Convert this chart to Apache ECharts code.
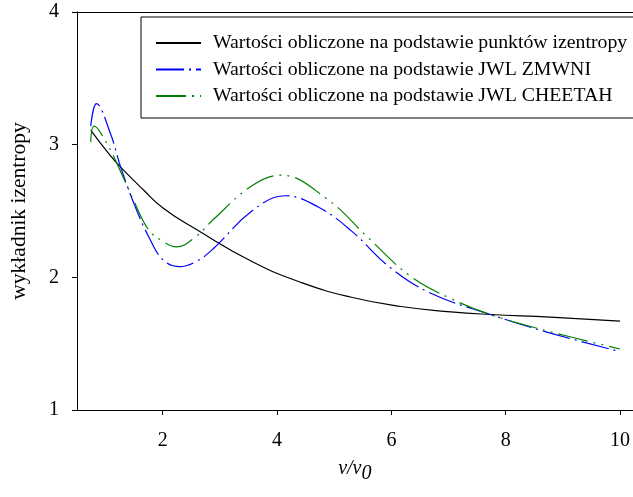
<!DOCTYPE html>
<html>
<head>
    <meta charset="utf-8"/>
    <title>wykładnik izentropy</title>
    <script src="https://cdn.jsdelivr.net/npm/echarts@6/dist/echarts.min.js"></script>
    <style>
        html, body { margin: 0; padding: 0; background: #fff; }
        #chart { width: 633px; height: 497px; }
    </style>
</head>
<body>
<div id="chart"></div>
<script>
    // dane: [v/v0, wykładnik]
    var punktyIzentropy = [[0.74, 3.11], [1.08, 2.92], [1.31, 2.81], [1.66, 2.66], [2.01, 2.52],
        [2.59, 2.36], [3.56, 2.12], [4.43, 1.96], [5.30, 1.85], [6.17, 1.78], [7.04, 1.74],
        [7.73, 1.72], [8.78, 1.70], [10.0, 1.67]];
    var jwlZmwni = [[0.74, 3.14], [0.84, 3.31], [1.08, 3.09], [1.28, 2.81], [1.54, 2.51], [1.75, 2.31],
        [2.01, 2.13], [2.30, 2.08], [2.59, 2.12], [2.87, 2.21], [3.56, 2.50], [4.14, 2.615],
        [4.72, 2.53], [5.30, 2.35], [5.96, 2.08], [6.69, 1.88], [7.73, 1.72], [8.78, 1.58], [10.0, 1.44]];
    var jwlCheetah = [[0.74, 3.02], [0.80, 3.14], [1.02, 3.01], [1.25, 2.81], [1.49, 2.58], [1.75, 2.36],
        [2.01, 2.27], [2.24, 2.23], [2.59, 2.31], [2.87, 2.43], [3.56, 2.69], [4.07, 2.77],
        [4.89, 2.585], [5.59, 2.30], [6.34, 2.006], [7.04, 1.84], [7.73, 1.72], [8.78, 1.59], [10.0, 1.46]];
    var xTicks = [2, 4, 6, 8, 10];
    var nazwy = ['Wartości obliczone na podstawie punktów izentropy',
        'Wartości obliczone na podstawie JWL ZMWNI',
        'Wartości obliczone na podstawie JWL CHEETAH'];

    var font = 'Liberation Serif';
    var chart = echarts.init(document.getElementById('chart'));
    var option = {
        animation: false,
        textStyle: {fontFamily: font},
        grid: {left: 74, top: 12, right: 0, height: 398},
        legend: {
            orient: 'vertical',
            left: 141, top: 17,
            padding: [16, 60, 12, 14],
            itemGap: 6.5,
            itemWidth: 45, itemHeight: 14,
            borderColor: '#000', borderWidth: 1,
            itemStyle: {opacity: 0},
            textStyle: {fontFamily: font, fontSize: 19.8, color: '#000', padding: [0, 0, 0, 7]},
            data: nazwy
        },
        xAxis: [{
            type: 'value', min: 0.5, max: 10.22,
            name: '{a|v/v}{b|0}',
            nameLocation: 'middle', nameGap: 44,
            nameTextStyle: {
                rich: {
                    a: {fontFamily: font, fontSize: 20, fontStyle: 'italic', color: '#000'},
                    b: {fontFamily: font, fontSize: 20, fontStyle: 'italic', color: '#000', padding: [10, 0, 0, 0]}
                }
            },
            axisLine: {lineStyle: {color: '#000', width: 1}},
            axisTick: {length: 5, customValues: xTicks, lineStyle: {color: '#000'}},
            axisLabel: {customValues: xTicks, margin: 21, fontSize: 20, color: '#000', fontFamily: font},
            splitLine: {show: false}
        }, {
            // górna linia ramki
            type: 'value', position: 'top', min: 0.5, max: 10.22,
            axisLine: {lineStyle: {color: '#000', width: 1}},
            axisTick: {show: false},
            axisLabel: {show: false},
            splitLine: {show: false}
        }],
        yAxis: {
            type: 'value', min: 1, max: 4, interval: 1,
            name: 'wykładnik izentropy',
            nameLocation: 'middle', nameGap: 47, nameRotate: 90,
            nameTextStyle: {fontFamily: font, fontSize: 21.5, color: '#000'},
            axisLine: {show: true, lineStyle: {color: '#000', width: 1}},
            axisTick: {show: true, length: 5, lineStyle: {color: '#000'}},
            axisLabel: {margin: 18, fontSize: 20, color: '#000', fontFamily: font},
            splitLine: {show: false}
        },
        series: [{
            name: nazwy[0], type: 'line', smooth: 0.5, showSymbol: false, symbol: 'none',
            lineStyle: {color: '#000', width: 1.2},
            itemStyle: {color: '#000'},
            data: punktyIzentropy
        }, {
            name: nazwy[1], type: 'line', smooth: 0.4, showSymbol: false, symbol: 'none',
            lineStyle: {color: '#0000ff', width: 1.2, type: [28, 5, 2, 5]},
            itemStyle: {color: '#0000ff'},
            data: jwlZmwni
        }, {
            name: nazwy[2], type: 'line', smooth: 0.4, showSymbol: false, symbol: 'none',
            lineStyle: {color: '#008000', width: 1.2, type: [30, 6, 2, 6, 2, 6]},
            itemStyle: {color: '#008000'},
            data: jwlCheetah
        }]
    };
    chart.setOption(option);
</script>
</body>
</html>
